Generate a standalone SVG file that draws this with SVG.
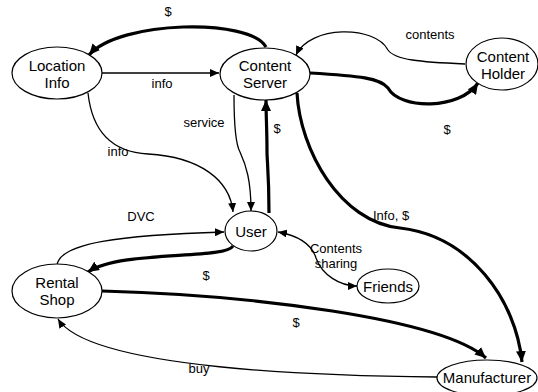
<svg xmlns="http://www.w3.org/2000/svg" width="538" height="392" viewBox="0 0 538 392">
<style>
.node ellipse{fill:#fff;stroke:#000;stroke-width:1.2}
.node text{font-family:"Liberation Sans",Arial,sans-serif;font-size:15px;text-anchor:middle;fill:#000}
.lbl{font-family:"Liberation Sans",Arial,sans-serif;font-size:13px;fill:#000}
.thin{fill:none;stroke:#000;stroke-width:1.3}
.thick{fill:none;stroke:#000;stroke-width:3.2}
</style>
<defs>
<marker id="a" markerUnits="userSpaceOnUse" markerWidth="10" markerHeight="8" refX="9" refY="4" orient="auto">
<path d="M0,0 L9,4 L0,8 z" fill="#000"/>
</marker>
<marker id="as" markerUnits="userSpaceOnUse" markerWidth="10" markerHeight="8" refX="9" refY="4" orient="auto-start-reverse">
<path d="M0,0 L9,4 L0,8 z" fill="#000"/>
</marker>
<marker id="b" markerUnits="userSpaceOnUse" markerWidth="12" markerHeight="10" refX="11" refY="5" orient="auto">
<path d="M0,0 L11,5 L0,10 z" fill="#000"/>
</marker>
</defs>
<g id="connectors">
<path class="thick" d="M266 47 C250 18,120 20,89 55" marker-end="url(#b)"/>
<path class="thin" d="M102 73 L219 73" marker-end="url(#a)"/>
<path class="thin" d="M88 93 C92 130,110 152,148 154 C200 157,230 180,233 212" marker-end="url(#a)"/>
<path class="thin" d="M234 95 C234 130,236 145,240 152 C246 165,251 180,251 211" marker-end="url(#a)"/>
<path class="thick" d="M269 213 C269 175,267 160,267 152 C267 130,266 115,266 100" marker-end="url(#b)"/>
<path class="thin" d="M465 64 C420 62,395 60,388 50 C375 25,310 25,296 55" marker-end="url(#a)"/>
<path class="thick" d="M310 73 C360 76,380 78,388 88 C400 110,460 110,478 83" marker-end="url(#b)"/>
<path class="thick" d="M297 93 C300 150,340 222,400 228 C470 236,516 300,522 362" marker-end="url(#b)"/>
<path class="thin" d="M278 232 C300 236,312 245,316 258 C322 275,340 286,357 286" marker-start="url(#as)" marker-end="url(#a)"/>
<path class="thin" d="M57 265 C60 243,120 235,224 232" marker-end="url(#a)"/>
<path class="thick" d="M233 246 C225 260,120 250,88 272" marker-end="url(#b)"/>
<path class="thick" d="M102 291 C250 295,440 318,486 358" marker-end="url(#b)"/>
<path class="thin" d="M437 377 C330 376,90 370,58 319" marker-end="url(#a)"/>
</g>
<g id="edge-labels">
<text class="lbl" x="168" y="16" text-anchor="middle">$</text>
<text class="lbl" x="162" y="88" text-anchor="middle">info</text>
<text class="lbl" x="118" y="156" text-anchor="middle">info</text>
<text class="lbl" x="204" y="127" text-anchor="middle">service</text>
<text class="lbl" x="277" y="133" text-anchor="middle">$</text>
<text class="lbl" x="430" y="39" text-anchor="middle">contents</text>
<text class="lbl" x="447" y="134" text-anchor="middle">$</text>
<text class="lbl" x="373" y="220">Info, $</text>
<text class="lbl" x="336" y="253" text-anchor="middle">Contents</text>
<text class="lbl" x="336" y="268" text-anchor="middle">sharing</text>
<text class="lbl" x="141" y="221" text-anchor="middle">DVC</text>
<text class="lbl" x="206" y="280" text-anchor="middle">$</text>
<text class="lbl" x="296" y="327" text-anchor="middle">$</text>
<text class="lbl" x="199" y="373" text-anchor="middle">buy</text>
</g>
<g id="location-info" class="node"><ellipse cx="57" cy="73" rx="45" ry="26"/><text x="57" y="71">Location</text><text x="57" y="88">Info</text></g>
<g id="content-server" class="node"><ellipse cx="265" cy="74" rx="45" ry="26"/><text x="265" y="71">Content</text><text x="265" y="88">Server</text></g>
<g id="content-holder" class="node"><ellipse cx="502" cy="64" rx="36" ry="26"/><text x="503" y="62">Content</text><text x="503" y="79">Holder</text></g>
<g id="user" class="node"><ellipse cx="251" cy="231" rx="26" ry="20"/><text x="251" y="237">User</text></g>
<g id="rental-shop" class="node"><ellipse cx="57" cy="291" rx="45" ry="27"/><text x="57" y="288">Rental</text><text x="57" y="305">Shop</text></g>
<g id="friends" class="node"><ellipse cx="388" cy="286" rx="31" ry="17"/><text x="388" y="292">Friends</text></g>
<g id="manufacturer" class="node"><ellipse cx="487" cy="378" rx="50" ry="18"/><text x="487" y="383">Manufacturer</text></g>
</svg>
